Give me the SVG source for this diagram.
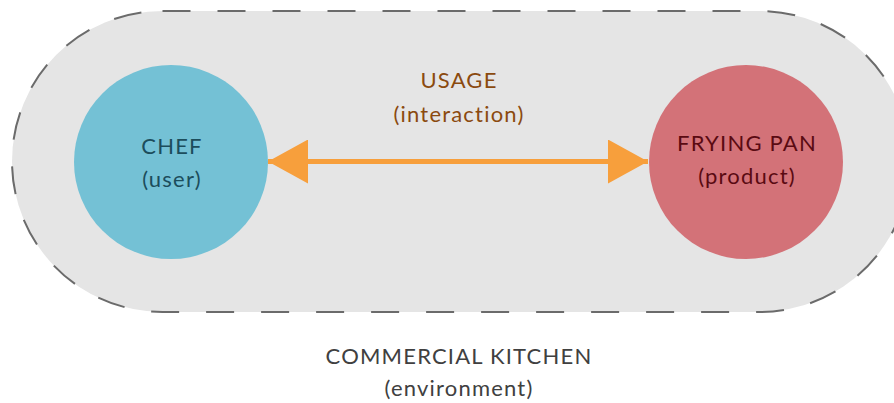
<svg xmlns="http://www.w3.org/2000/svg" width="894" height="403" viewBox="0 0 894 403">
<style>
text{font-family:Lato,"Open Sans","Liberation Sans",sans-serif;font-size:22px;letter-spacing:1.2px;text-anchor:middle}
.env{fill:#404040}
.use{fill:#8B4A0F}
.chef{fill:#1C4D5C}
.pan{fill:#5A0A12}
</style>
<defs>
<marker id="ah" viewBox="0 0 40 44" refX="40" refY="22" markerWidth="40" markerHeight="44" markerUnits="userSpaceOnUse" orient="auto-start-reverse">
<path d="M0,0 L40,22 L0,44 Z" fill="#F79F3C"/>
</marker>
</defs>
<g id="environment">
<rect x="12" y="11" width="898" height="301" rx="150.5" ry="150.5" fill="#E5E5E5" stroke="#6B6B6B" stroke-width="2" stroke-dasharray="28 27"/>
<text class="env" x="459" y="364">COMMERCIAL KITCHEN</text>
<text class="env" x="459" y="396">(environment)</text>
</g>
<g id="chef">
<circle cx="171" cy="162" r="97" fill="#74C1D5"/>
<text class="chef" x="172" y="154">CHEF</text>
<text class="chef" x="172" y="187">(user)</text>
</g>
<g id="fryingpan">
<circle cx="746" cy="162" r="97" fill="#D37278"/>
<text class="pan" x="747" y="151">FRYING PAN</text>
<text class="pan" x="747" y="184">(product)</text>
</g>
<g id="connectors">
<line x1="268" y1="161.5" x2="648" y2="161.5" stroke="#F79F3C" stroke-width="5" marker-start="url(#ah)" marker-end="url(#ah)"/>
<text class="use" x="459" y="88">USAGE</text>
<text class="use" x="459" y="122">(interaction)</text>
</g>
</svg>
